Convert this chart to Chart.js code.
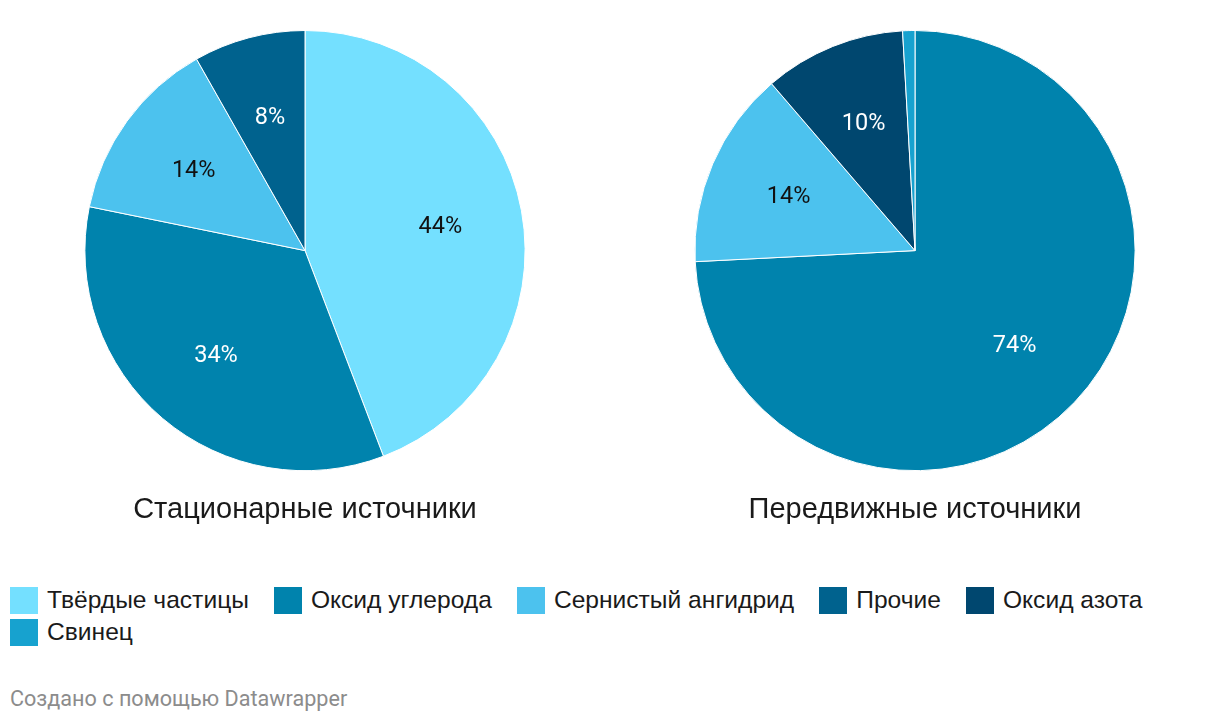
<!DOCTYPE html>
<html>
<head>
<meta charset="utf-8">
<script src="https://cdn.jsdelivr.net/npm/chart.js@4.4.0/dist/chart.umd.min.js"></script>
<style>
  body { margin: 0; background: #fff; width: 1220px; height: 722px; overflow: hidden; font-family: "Liberation Sans", Arial, sans-serif; }
  .charts { display: flex; }
  .box { width: 610px; height: 550px; position: relative; }
  #legend { position: absolute; left: 10px; top: 586px; width: 1200px; display: flex; flex-wrap: wrap; row-gap: 4px; }
  .item { display: flex; align-items: center; margin-right: 25px; font-size: 24.6px; color: #1a1a1a; height: 28px; }
  .sw { width: 28px; height: 27px; margin-right: 9px; }
  #footer { position: absolute; left: 10px; top: 686px; font-family: Roboto, sans-serif; font-size: 21.6px; color: #8c8c8c; }
</style>
</head>
<body>
<div class="charts">
  <div class="box"><canvas id="left"></canvas></div>
  <div class="box"><canvas id="right"></canvas></div>
</div>
<div id="legend"></div>
<div id="footer">Создано с помощью Datawrapper</div>
<script>
const legendNames = ['Твёрдые частицы', 'Оксид углерода', 'Сернистый ангидрид', 'Прочие', 'Оксид азота', 'Свинец'];
const legendColors = ['#74e0ff', '#0083ad', '#4cc2ee', '#00628e', '#00476f', '#17a2cf'];

const leftLabels = ['Твёрдые частицы', 'Оксид углерода', 'Сернистый ангидрид', 'Прочие'];
const leftValues = [44.2, 34, 13.6, 8.2];
const leftColors = ['#74e0ff', '#0083ad', '#4cc2ee', '#00628e'];

const rightLabels = ['Оксид углерода', 'Сернистый ангидрид', 'Оксид азота', 'Свинец'];
const rightValues = [74.2, 14.5, 10.4, 0.9];
const rightColors = ['#0083ad', '#4cc2ee', '#00476f', '#17a2cf'];

const darkText = ['#74e0ff', '#4cc2ee'];

const pctLabels = {
  id: 'pctLabels',
  afterDatasetsDraw(chart) {
    const ctx = chart.ctx;
    const ds = chart.data.datasets[0];
    const total = ds.data.reduce((a, b) => a + b, 0);
    chart.getDatasetMeta(0).data.forEach((arc, i) => {
      const pct = ds.data[i] / total * 100;
      if (pct < 3) return;
      const mid = (arc.startAngle + arc.endAngle) / 2;
      const r = arc.outerRadius * 0.625;
      const x = arc.x + Math.cos(mid) * r;
      const y = arc.y + Math.sin(mid) * r;
      ctx.save();
      ctx.font = '23.5px Roboto';
      ctx.fillStyle = darkText.includes(ds.backgroundColor[i]) ? '#111' : '#fff';
      ctx.textAlign = 'center';
      ctx.textBaseline = 'middle';
      ctx.fillText(Math.round(pct) + '%', x, y + 1);
      ctx.restore();
    });
  }
};

function makePie(id, labels, values, colors, title) {
  new Chart(document.getElementById(id), {
    type: 'pie',
    data: {
      labels,
      datasets: [{ data: values, backgroundColor: colors, borderColor: '#fff', borderWidth: 1 }]
    },
    options: {
      responsive: true,
      maintainAspectRatio: false,
      animation: false,
      layout: { padding: { top: 30 } },
      plugins: {
        legend: { display: false },
        tooltip: { enabled: false },
        title: {
          display: true,
          text: title,
          position: 'bottom',
          color: '#1a1a1a',
          font: { family: '"Liberation Sans"', size: 29, weight: 'normal' },
          padding: { top: 21, bottom: 23 }
        }
      }
    },
    plugins: [pctLabels]
  });
}

makePie('left', leftLabels, leftValues, leftColors, 'Стационарные источники');
makePie('right', rightLabels, rightValues, rightColors, 'Передвижные источники');

const legend = document.getElementById('legend');
legendNames.forEach((n, i) => {
  const el = document.createElement('div');
  el.className = 'item';
  el.innerHTML = `<span class="sw" style="background:${legendColors[i]}"></span>${n}`;
  legend.appendChild(el);
});
</script>
</body>
</html>
